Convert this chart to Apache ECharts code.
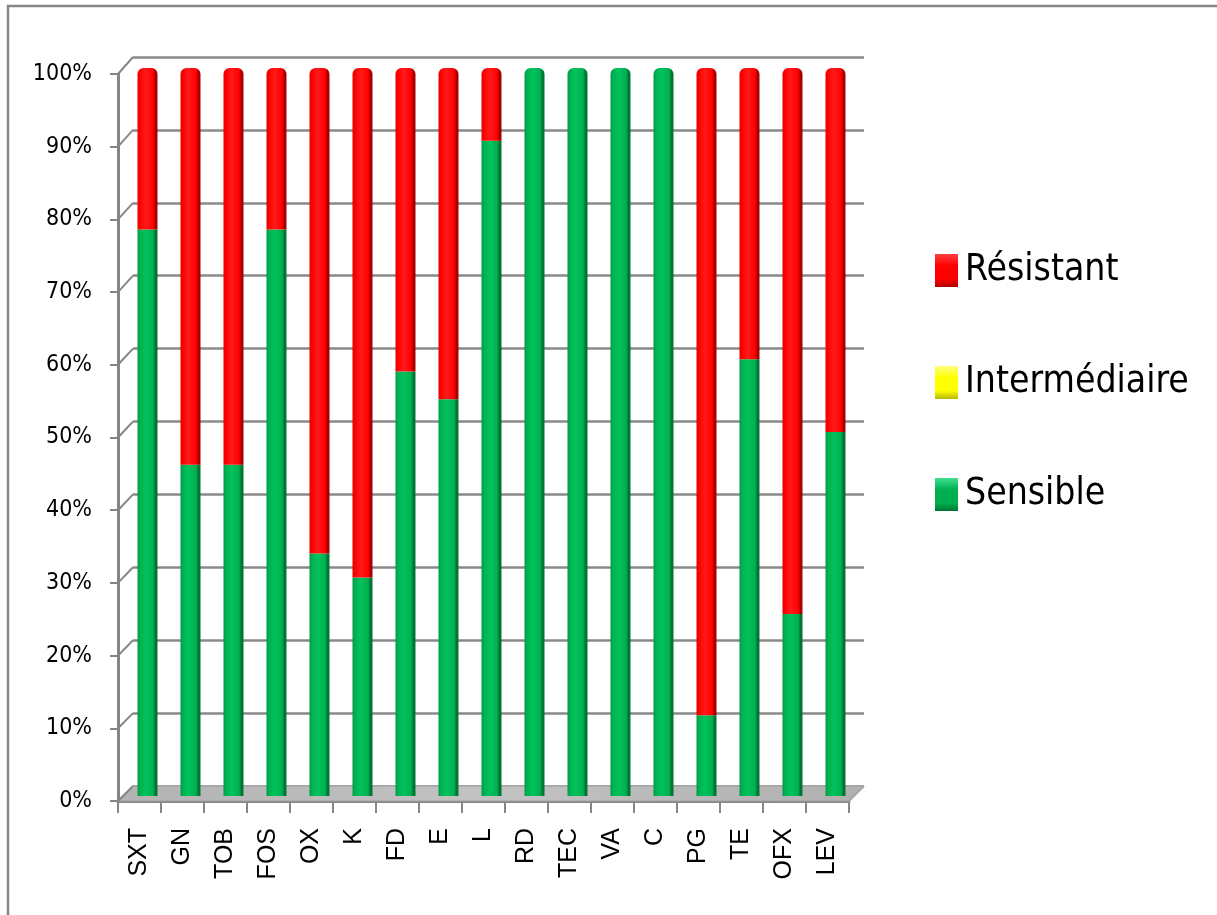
<!DOCTYPE html>
<html>
<head>
<meta charset="utf-8">
<script src="https://cdn.jsdelivr.net/npm/echarts@6/dist/echarts.min.js"></script>
<style>
  html, body { margin: 0; padding: 0; background: #fff; }
  #chart { width: 1217px; height: 915px; }
</style>
</head>
<body>
<div id="chart"></div>
<script>
// Antibiotic susceptibility, share of isolates per antibiotic (%)
const categories = ['SXT', 'GN', 'TOB', 'FOS', 'OX', 'K', 'FD', 'E', 'L', 'RD', 'TEC', 'VA', 'C', 'PG', 'TE', 'OFX', 'LEV'];
const sensible = [77.8, 45.5, 45.5, 77.8, 33.3, 30, 58.3, 54.5, 90, 100, 100, 100, 100, 11.1, 60, 25, 50];
const intermediaire = [0, 0, 0, 0, 0, 0, 0, 0, 0, 0, 0, 0, 0, 0, 0, 0, 0];
const resistant = [22.2, 54.5, 54.5, 22.2, 66.7, 70, 41.7, 45.5, 10, 0, 0, 0, 0, 88.9, 40, 75, 50];
const yTicks = [0, 10, 20, 30, 40, 50, 60, 70, 80, 90, 100];

const W = 1217, H = 915;
const axisGray = '#868686';
const narrowFont = "'Liberation Sans Narrow', 'DejaVu Sans Condensed', 'DejaVu Sans', sans-serif";

// Cylinder-like shading across each column
function columnShade(edgeL, base, light, edgeR) {
  return new echarts.graphic.LinearGradient(0, 0, 1, 0, [
    { offset: 0, color: edgeL },
    { offset: 0.12, color: base },
    { offset: 0.4, color: light },
    { offset: 0.78, color: base },
    { offset: 0.9, color: edgeR },
    { offset: 1, color: edgeR }
  ]);
}
function keyShade(top, mid, bottom) {
  return new echarts.graphic.LinearGradient(0, 0, 0, 1, [
    { offset: 0, color: top },
    { offset: 0.35, color: mid },
    { offset: 0.75, color: mid },
    { offset: 1, color: bottom }
  ]);
}
const greenFill = columnShade('#009a48', '#00b050', '#00c25c', '#007534');
const redFill = columnShade('#e00000', '#ff0000', '#ff1a1a', '#a80000');
const yellowFill = columnShade('#d8d800', '#ffff00', '#ffff40', '#b0b000');

const capRadius = [6, 6, 0, 0];

// Sensible columns that reach the top get the rounded cap
const sensibleItems = sensible.map((v, i) => (
  resistant[i] === 0 && intermediaire[i] === 0
    ? { value: v, itemStyle: { borderRadius: capRadius } }
    : v
));

// Front plane (axes), column plane, back wall (gridlines)
const front = { left: 118, top: 74, right: W - 849, bottom: H - 801 };
const cols  = { left: 126, top: 68, right: W - 857, bottom: H - 796 };
const back  = { left: 133, top: 57, right: W - 864, bottom: H - 786 };

const chart = echarts.init(document.getElementById('chart'), null, { renderer: 'canvas' });

const option = {
  backgroundColor: '#ffffff',
  animation: false,
  grid: [
    Object.assign({ containLabel: false }, front),
    Object.assign({ containLabel: false }, cols),
    Object.assign({ containLabel: false }, back)
  ],
  legend: {
    orient: 'vertical',
    left: 930,
    top: 247,
    icon: 'rect',
    itemWidth: 23,
    itemHeight: 33,
    itemGap: 75,
    textStyle: { fontFamily: narrowFont, fontSize: 37, color: '#000', padding: [0, 0, 0, 2] },
    data: [
      { name: 'Résistant', itemStyle: { color: keyShade('#ff4040', '#ff0000', '#b00000') } },
      { name: 'Intermédiaire', itemStyle: { color: keyShade('#ffff80', '#ffff00', '#b8b800') } },
      { name: 'Sensible', itemStyle: { color: keyShade('#40e090', '#00b050', '#007534') } }
    ]
  },
  xAxis: [
    {
      gridIndex: 0, type: 'category', data: categories, boundaryGap: true,
      axisLine: { show: true, lineStyle: { color: axisGray, width: 3 } },
      axisTick: { show: true, length: 12, lineStyle: { color: axisGray, width: 2 } },
      axisLabel: { interval: 0, rotate: 90, margin: 27, fontFamily: 'Liberation Sans', fontSize: 25, color: '#000' },
      splitLine: { show: false }
    },
    { gridIndex: 1, type: 'category', data: categories, show: false },
    { gridIndex: 2, type: 'category', data: categories, show: false }
  ],
  yAxis: [
    {
      gridIndex: 0, type: 'value', min: 0, max: 100, interval: 10,
      axisLine: { show: true, lineStyle: { color: axisGray, width: 3 } },
      axisTick: { show: true, length: 8, lineStyle: { color: axisGray, width: 2 } },
      axisLabel: { formatter: '{value}%', margin: 26, fontFamily: narrowFont, fontSize: 23, color: '#000' },
      splitLine: { show: false }
    },
    { gridIndex: 1, type: 'value', min: 0, max: 100, show: false },
    {
      gridIndex: 2, type: 'value', min: 0, max: 100, interval: 10,
      axisLine: { show: false }, axisTick: { show: false }, axisLabel: { show: false },
      splitLine: { show: true, lineStyle: { color: '#8a8a8a', width: 2.5 } }
    }
  ],
  series: [
    {
      name: 'Sensible', type: 'bar', stack: 'all', xAxisIndex: 1, yAxisIndex: 1,
      barWidth: 20, z: 5, data: sensibleItems, itemStyle: { color: greenFill }
    },
    {
      name: 'Intermédiaire', type: 'bar', stack: 'all', xAxisIndex: 1, yAxisIndex: 1,
      barWidth: 20, z: 5, data: intermediaire, itemStyle: { color: yellowFill }
    },
    {
      name: 'Résistant', type: 'bar', stack: 'all', xAxisIndex: 1, yAxisIndex: 1,
      barWidth: 20, z: 5, data: resistant, itemStyle: { color: redFill, borderRadius: capRadius }
    }
  ]
};

chart.setOption(option);

// Floor, depth connectors and chart border, placed from the axes' own scales
function gridRect(i) {
  return chart.getModel().getComponent('grid', i).coordinateSystem.getRect();
}
const rf = gridRect(0), rb = gridRect(2);
const yFront = v => chart.convertToPixel({ yAxisIndex: 0 }, v);
const yBack = v => chart.convertToPixel({ yAxisIndex: 2 }, v);

const graphics = [];
graphics.push({
  type: 'rect', z: -10, silent: true,
  shape: { x: 8, y: 6, width: W + 20, height: H + 20 },
  style: { fill: 'none', stroke: axisGray, lineWidth: 2.5 }
});
graphics.push({
  type: 'polygon', z: 1, silent: true,
  shape: {
    points: [
      [rf.x, yFront(0)], [rf.x + rf.width, yFront(0)],
      [rb.x + rb.width, yBack(0)], [rb.x, yBack(0)]
    ]
  },
  style: {
    fill: new echarts.graphic.LinearGradient(0, 0, 1, 1, [
      { offset: 0, color: '#b3b3b3' }, { offset: 0.5, color: '#c2c2c2' }, { offset: 1, color: '#b0b0b0' }
    ]),
    stroke: '#a0a0a0', lineWidth: 1
  }
});
yTicks.forEach(v => {
  graphics.push({
    type: 'line', z: 2, silent: true,
    shape: { x1: rf.x, y1: yFront(v), x2: rb.x, y2: yBack(v) },
    style: { stroke: axisGray, lineWidth: 2 }
  });
});
graphics.push({
  type: 'line', z: 2, silent: true,
  shape: { x1: rf.x + rf.width, y1: yFront(0), x2: rb.x + rb.width, y2: yBack(0) },
  style: { stroke: '#a8a8a8', lineWidth: 2 }
});

chart.setOption({ graphic: graphics });
</script>
</body>
</html>
